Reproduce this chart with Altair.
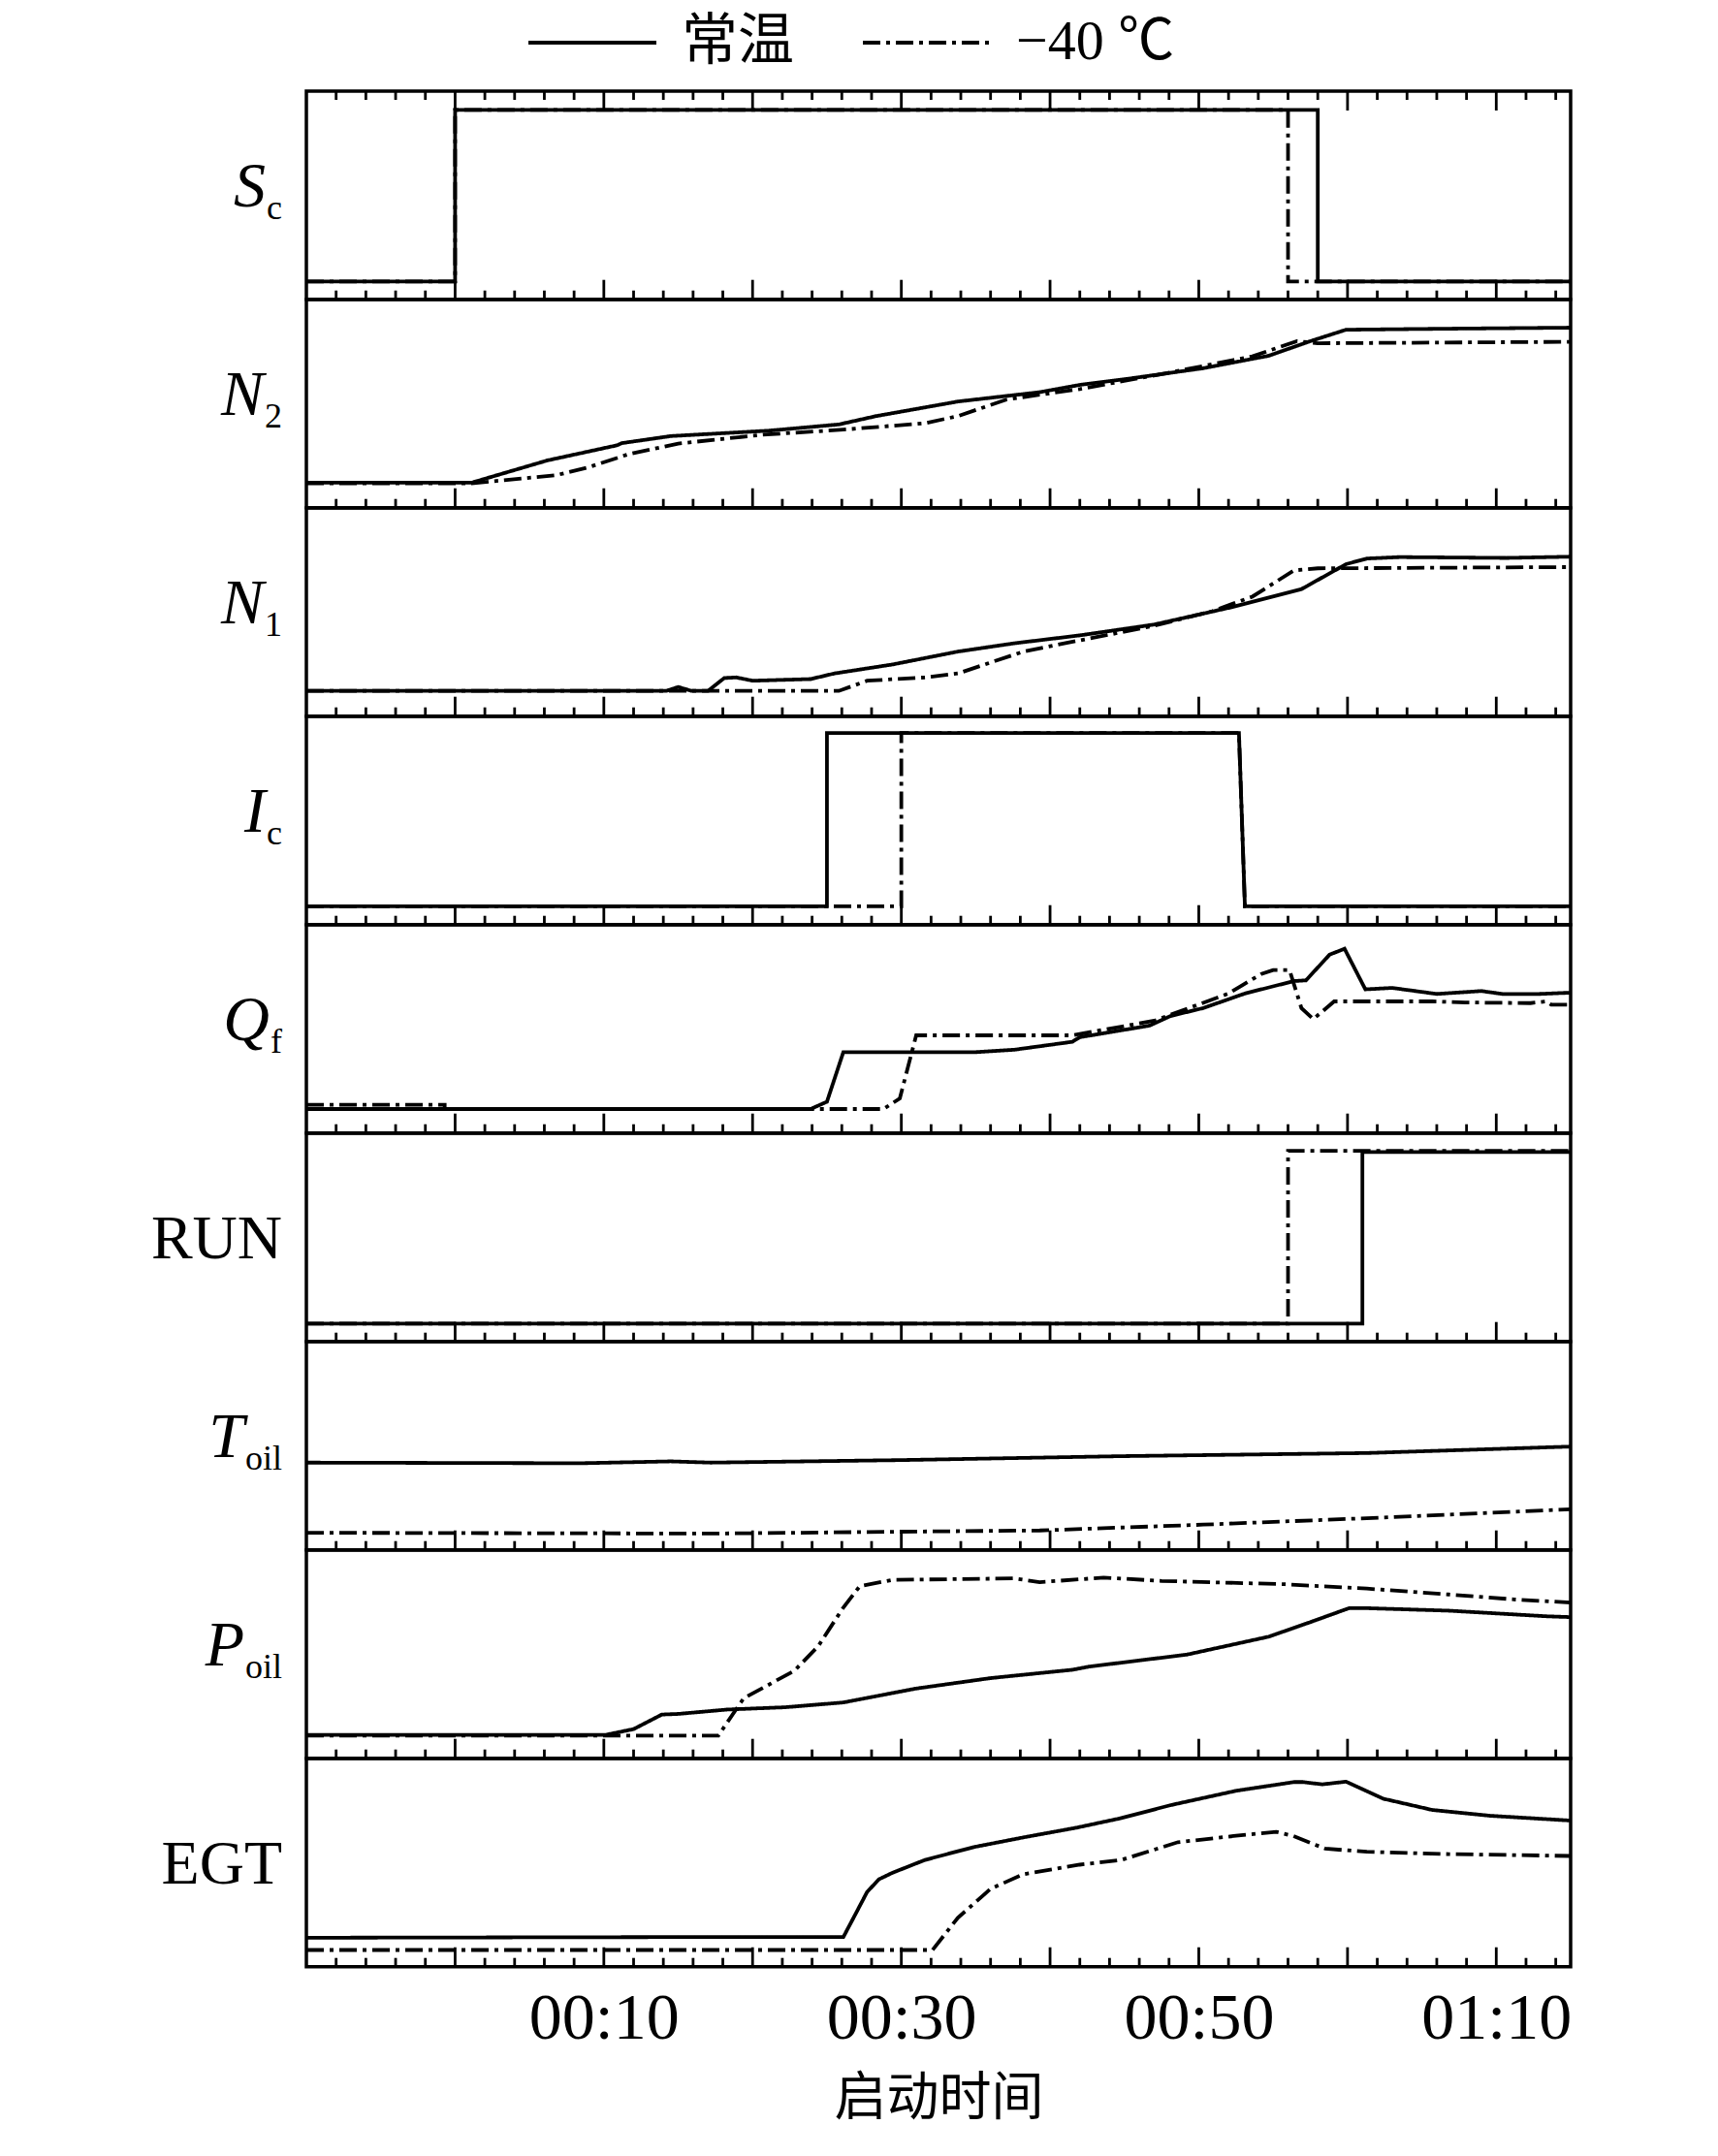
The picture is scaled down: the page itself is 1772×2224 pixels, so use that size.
import altair as alt
import pandas as pd

# ---------------- data (t in seconds, v as fraction of panel) -------------
SERIES = ["常温", "−40 ℃"]

sc_t_a = [-10, 0, 0, 58, 58, 75]
sc_v_a = [0.085, 0.085, 0.91, 0.91, 0.085, 0.085]
sc_t_b = [-10, 0, 0, 56, 56, 75]
sc_v_b = [0.085, 0.085, 0.91, 0.91, 0.085, 0.085]

n2_t_a = [-10, 1.1, 6.2, 10.9, 11.2, 14.5, 21.1, 25.8, 28.3, 33.8, 39.3, 42.0, 45.3, 50.3, 54.7, 57.5, 59.9, 66.8, 75]
n2_v_a = [0.12, 0.12, 0.227, 0.30, 0.31, 0.344, 0.37, 0.40, 0.44, 0.51, 0.555, 0.59, 0.62, 0.67, 0.73, 0.80, 0.855, 0.86, 0.865]
n2_t_b = [-10, 1.1, 6.8, 9, 11.7, 15, 20.6, 26.1, 31.6, 33.8, 37.1, 42, 48.1, 53.6, 56.6, 58, 75]
n2_v_b = [0.117, 0.117, 0.156, 0.195, 0.258, 0.308, 0.35, 0.375, 0.406, 0.44, 0.52, 0.57, 0.65, 0.727, 0.80, 0.79, 0.797]

n1_t_a = [-10, 14.2, 15, 15.9, 17, 18.1, 18.9, 20, 23.9, 25.5, 29.4, 33.8, 37.6, 42, 47, 52, 56.9, 59.9, 61.3, 63.5, 70.7, 75]
n1_v_a = [0.121, 0.121, 0.14, 0.121, 0.121, 0.183, 0.186, 0.17, 0.178, 0.205, 0.248, 0.31, 0.35, 0.388, 0.44, 0.52, 0.61, 0.73, 0.757, 0.764, 0.76, 0.766]
n1_t_b = [-10, 25.8, 27.7, 31.6, 33.8, 38.2, 42, 47, 50.9, 53.6, 56.4, 58, 75]
n1_v_b = [0.121, 0.121, 0.17, 0.186, 0.205, 0.31, 0.364, 0.434, 0.504, 0.574, 0.70, 0.71, 0.716]

ic_t_a = [-10, 25, 25, 52.7, 53.1, 75]
ic_v_a = [0.088, 0.088, 0.92, 0.92, 0.088, 0.088]
ic_t_b = [-10, 30, 30, 52.7, 53.1, 75]
ic_v_b = [0.088, 0.088, 0.92, 0.92, 0.088, 0.088]

qf_t_a = [-10, 23.9, 25, 26.1, 34.9, 37.6, 41.5, 42, 46.7, 48.1, 50.3, 53.1, 56.4, 57.2, 58.8, 59.8, 61.2, 63, 66, 69, 70.4, 72.9, 75]
qf_v_a = [0.115, 0.115, 0.15, 0.388, 0.388, 0.40, 0.438, 0.46, 0.516, 0.562, 0.60, 0.67, 0.73, 0.733, 0.857, 0.885, 0.69, 0.697, 0.668, 0.682, 0.668, 0.668, 0.674]
qf_t_b = [-10, -0.7, -0.7, 28.8, 29.9, 31, 41.5, 47, 52, 54.2, 55, 56.1, 56.9, 57.7, 59.1, 65.7, 67.9, 72.3, 73.4, 73.7, 75]
qf_v_b = [0.135, 0.135, 0.115, 0.115, 0.166, 0.469, 0.469, 0.539, 0.67, 0.764, 0.783, 0.783, 0.60, 0.547, 0.632, 0.632, 0.627, 0.624, 0.632, 0.616, 0.616]

run_t_a = [-10, 61, 61, 75]
run_v_a = [0.085, 0.085, 0.91, 0.91]
run_t_b = [-10, 56, 56, 75]
run_v_b = [0.085, 0.085, 0.916, 0.916]

toil_t_a = [-10, 8.4, 14.5, 17.2, 29.9, 44.8, 61.3, 75]
toil_v_a = [0.419, 0.416, 0.425, 0.419, 0.431, 0.45, 0.465, 0.496]
toil_t_b = [-10, 17.2, 29.9, 39.3, 50.3, 61.3, 75]
toil_v_b = [0.082, 0.078, 0.087, 0.093, 0.121, 0.152, 0.195]

poil_t_a = [-10, 10.1, 12, 13.9, 15, 18.3, 22.2, 26.1, 31, 36, 41.5, 42.6, 49.2, 54.7, 57.5, 60.1, 61.3, 66.8, 73.4, 75]
poil_v_a = [0.112, 0.112, 0.14, 0.21, 0.213, 0.234, 0.245, 0.268, 0.335, 0.385, 0.425, 0.44, 0.498, 0.584, 0.654, 0.721, 0.721, 0.709, 0.682, 0.678]
poil_t_b = [-10, 17.7, 19.4, 22.8, 24.4, 26.1, 27.2, 29.4, 37.6, 39.3, 43.6, 47.5, 55.8, 61.3, 66.8, 71.2, 75]
poil_v_b = [0.109, 0.109, 0.288, 0.42, 0.537, 0.724, 0.826, 0.857, 0.864, 0.846, 0.868, 0.852, 0.836, 0.815, 0.787, 0.763, 0.748]

egt_t_a = [-10, 13.4, 26.1, 26.9, 27.7, 28.5, 29.4, 31.6, 34.9, 38.2, 41.8, 44.8, 48.1, 52.5, 56.4, 57, 58.3, 59.9, 62.4, 65.7, 69.6, 75]
egt_v_a = [0.139, 0.142, 0.142, 0.25, 0.359, 0.42, 0.451, 0.513, 0.575, 0.621, 0.668, 0.714, 0.776, 0.845, 0.887, 0.887, 0.876, 0.889, 0.807, 0.753, 0.725, 0.702]
egt_t_b = [-10, 32.1, 33.8, 36, 38.2, 42, 44.8, 48.6, 52.5, 55.2, 56.3, 58.5, 61.3, 66.8, 75]
egt_v_b = [0.08, 0.08, 0.235, 0.374, 0.444, 0.49, 0.513, 0.598, 0.629, 0.648, 0.629, 0.567, 0.552, 0.541, 0.532]

# panel label: (key, main text, subscript)
PANELS = [
    ("Sc", "S", "c", sc_t_a, sc_v_a, sc_t_b, sc_v_b),
    ("N2", "N", "2", n2_t_a, n2_v_a, n2_t_b, n2_v_b),
    ("N1", "N", "1", n1_t_a, n1_v_a, n1_t_b, n1_v_b),
    ("Ic", "I", "c", ic_t_a, ic_v_a, ic_t_b, ic_v_b),
    ("Qf", "Q", "f", qf_t_a, qf_v_a, qf_t_b, qf_v_b),
    ("RUN", "RUN", "", run_t_a, run_v_a, run_t_b, run_v_b),
    ("Toil", "T", "oil", toil_t_a, toil_v_a, toil_t_b, toil_v_b),
    ("Poil", "P", "oil", poil_t_a, poil_v_a, poil_t_b, poil_v_b),
    ("EGT", "EGT", "", egt_t_a, egt_v_a, egt_t_b, egt_v_b),
]

TICK_VALUES = [10, 30, 50, 70]
TICK_LABELS = ["00:10", "00:30", "00:50", "01:10"]
X_TITLE = "启动时间"

# ---------------- styling / layout ----------------
W, H = 1304, 214.7
SERIF = "Liberation Serif"
CJK = "Noto Sans CJK SC"
MAJOR = [float(x) for x in range(0, 71, 10)]
MINOR = [float(x) for x in range(-8, 75, 2) if x % 10 != 0]
SUBW = {"c": 16, "1": 18, "2": 18, "f": 12, "oil": 38}

xscale = alt.Scale(domain=[-10, 75], nice=False, zero=False)
yscale = alt.Scale(domain=[0, 1], nice=False, zero=False)
dash_scale = alt.Scale(domain=SERIES, range=[[1, 0], [18, 6, 4, 6]])

legend = alt.Legend(
    orient="none", legendX=227, legendY=-118, direction="horizontal", title=None,
    symbolType="stroke", symbolSize=17424, symbolStrokeWidth=4, symbolStrokeColor="black",
    labelFont=f"{SERIF}, {CJK}", labelFontSize=58, labelColor="black", labelOffset=24,
    columnPadding=62, labelLimit=400,
)

expr = "''"
for v, lab in zip(reversed(TICK_VALUES), reversed(TICK_LABELS)):
    expr = f"datum.value == {v} ? '{lab}' : ({expr})"

bottom_axis = alt.Axis(
    values=TICK_VALUES, labelExpr=expr, ticks=False, domain=False, grid=False,
    labelFont=SERIF, labelFontSize=68, labelColor="black", labelPadding=20,
    title=X_TITLE, titleFont=CJK, titleFontSize=54, titleFontWeight="normal",
    titleColor="black", titlePadding=22,
)


def panel(idx, key, main, sub, ta, va, tb, vb):
    last = idx == len(PANELS) - 1
    axis = bottom_axis if last else None
    rows = []
    for s, ts, vs in ((SERIES[0], ta, va), (SERIES[1], tb, vb)):
        for i, (t, v) in enumerate(zip(ts, vs)):
            rows.append({"series": s, "i": i, "t": t, "v": v})
    df = pd.DataFrame(rows)
    xenc = alt.X("t:Q", scale=xscale, axis=axis, title=X_TITLE if last else None)

    lines = alt.Chart(df).mark_line(color="black", strokeWidth=3.8, strokeJoin="miter").encode(
        x=xenc,
        y=alt.Y("v:Q", scale=yscale, axis=None),
        strokeDash=alt.StrokeDash("series:N", scale=dash_scale, legend=legend, sort=SERIES),
        order="i:Q",
    )

    layers = [lines]
    maj = pd.DataFrame({"t": MAJOR})
    mnr = pd.DataFrame({"t": MINOR})
    layers.append(alt.Chart(maj).mark_rule(color="black", strokeWidth=2.8).encode(
        x=xenc, y=alt.value(H), y2=alt.value(H - 20)))
    layers.append(alt.Chart(mnr).mark_rule(color="black", strokeWidth=2.8).encode(
        x=xenc, y=alt.value(H), y2=alt.value(H - 9)))
    if idx == 0:
        layers.append(alt.Chart(maj).mark_rule(color="black", strokeWidth=2.8).encode(
            x=xenc, y=alt.value(0), y2=alt.value(20)))
        layers.append(alt.Chart(mnr).mark_rule(color="black", strokeWidth=2.8).encode(
            x=xenc, y=alt.value(0), y2=alt.value(9)))

    if sub:
        sw = SUBW[sub]
        layers.append(alt.Chart(pd.DataFrame({"lab": [main]})).mark_text(
            font=SERIF, fontSize=66, fontStyle="italic", align="right", baseline="alphabetic",
            color="black").encode(text="lab:N", x=alt.value(-25 - sw - 1), y=alt.value(H / 2 + 12)))
        layers.append(alt.Chart(pd.DataFrame({"lab": [sub]})).mark_text(
            font=SERIF, fontSize=36, align="right", baseline="alphabetic",
            color="black").encode(text="lab:N", x=alt.value(-25), y=alt.value(H / 2 + 25)))
    else:
        layers.append(alt.Chart(pd.DataFrame({"lab": [main]})).mark_text(
            font=SERIF, fontSize=64, align="right", baseline="alphabetic",
            color="black").encode(text="lab:N", x=alt.value(-25), y=alt.value(H / 2 + 22)))

    return alt.layer(*layers).properties(width=W, height=H)


charts = [panel(i, *p) for i, p in enumerate(PANELS)]

chart = alt.vconcat(*charts, spacing=0, bounds="flush").properties(
    padding={"left": 146, "top": -32, "right": 10, "bottom": 14},
    background="white",
).configure_view(stroke="black", strokeWidth=3.5)

chart.save("out.html", embed_options={"renderer": "svg", "actions": False})
